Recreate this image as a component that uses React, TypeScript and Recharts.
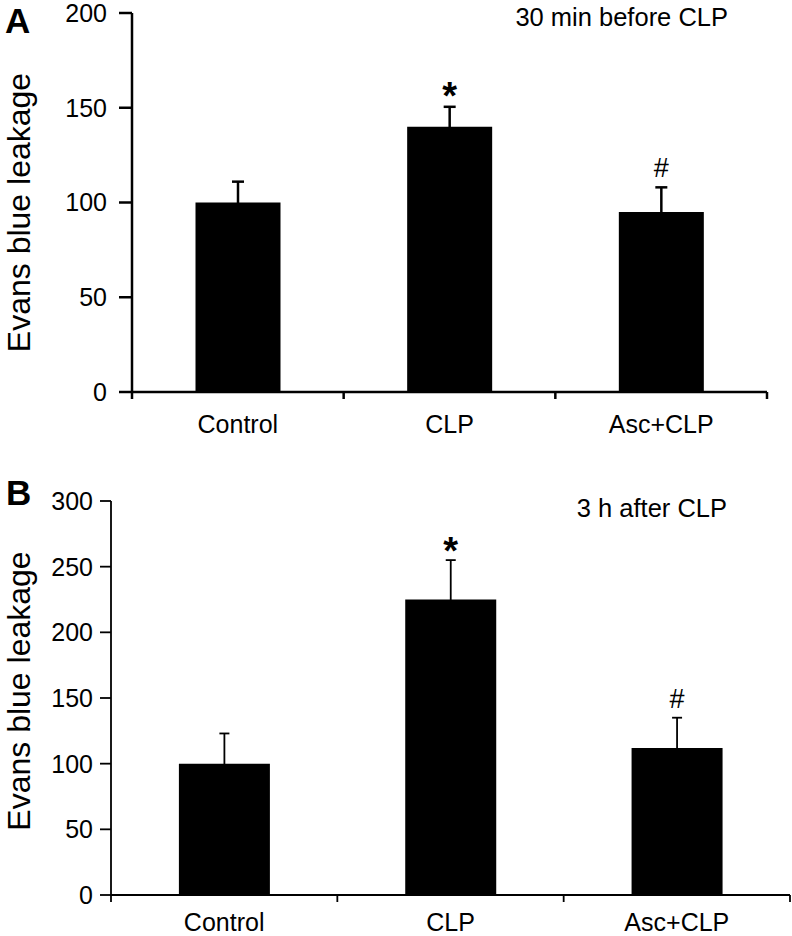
import React from 'react';
import { BarChart, Bar, XAxis, YAxis, ErrorBar, LabelList, Label } from 'recharts';

const FONT = '"Liberation Sans", Arial, Helvetica, sans-serif';

const categories = ['Control', 'CLP', 'Asc+CLP'];

const valuesA = [100, 140, 95];
const errorsA = [11, 10.5, 13];
const marksA = ['', '*', '#'];
const ticksA = [0, 50, 100, 150, 200];

const valuesB = [100, 225, 112];
const errorsB = [23, 30, 23];
const marksB = ['', '*', '#'];
const ticksB = [0, 50, 100, 150, 200, 250, 300];

const titleA = '30 min before CLP';
const titleB = '3 h after CLP';
const yLabel = 'Evans blue leakage';

const buildRows = (vals: number[], errs: number[], marks: string[]) =>
  categories.map((c, i) => ({ name: c, value: vals[i], err: errs[i], mark: marks[i] }));

const dataA = buildRows(valuesA, errorsA, marksA);
const dataB = buildRows(valuesB, errorsB, marksB);

function makeCatTick(tickLen: number, strokeW: number, labelDy: number) {
  return (props: any) => {
    const { x, y, payload, index } = props;
    const off = payload && typeof payload.offset === 'number' ? payload.offset : 0;
    const axisY = y - tickLen;
    const last = index === categories.length - 1;
    return (
      <g>
        <line x1={x - off} x2={x - off} y1={axisY} y2={axisY + tickLen} stroke="#000" strokeWidth={strokeW} />
        {last && (
          <line x1={x + off} x2={x + off} y1={axisY} y2={axisY + tickLen} stroke="#000" strokeWidth={strokeW} />
        )}
        <text x={x} y={axisY + labelDy} textAnchor="middle" fontFamily={FONT} fontSize={25} fill="#000">
          {payload.value}
        </text>
      </g>
    );
  };
}

function makeSigLabel(vals: number[], errs: number[], gapStar: number, gapHash: number) {
  return (props: any) => {
    const { x, y, width, height, value, index } = props;
    if (!value) return null;
    const pxPerUnit = height / vals[index];
    const errTop = y - errs[index] * pxPerUnit;
    const cx = x + width / 2;
    if (value === '*') {
      return (
        <text x={cx} y={errTop - gapStar} textAnchor="middle" fontFamily={FONT} fontSize={38} fontWeight="bold" fill="#000">
          {value}
        </text>
      );
    }
    return (
      <text x={cx} y={errTop - gapHash} textAnchor="middle" fontFamily={FONT} fontSize={27} fill="#000">
        {value}
      </text>
    );
  };
}

function makeYLabel(dxCenter: number, dyShift: number) {
  return (props: any) => {
    const vb = props.viewBox || { x: 0, y: 0, width: 0, height: 0 };
    const cx = vb.x + dxCenter;
    const cy = vb.y + vb.height / 2 + dyShift;
    return (
      <text
        x={cx}
        y={cy}
        transform={`rotate(-90, ${cx}, ${cy})`}
        textAnchor="middle"
        dominantBaseline="central"
        fontFamily={FONT}
        fontSize={32}
        fill="#000"
      >
        {yLabel}
      </text>
    );
  };
}

export default function App() {
  return (
    <div style={{ position: 'absolute', left: 0, top: 0, width: 792, height: 936, background: '#fff' }}>
      <BarChart
        width={792}
        height={450}
        data={dataA}
        margin={{ top: 13, right: 25, bottom: 8, left: 0 }}
        barCategoryGap="30%"
      >
        <XAxis
          dataKey="name"
          type="category"
          axisLine={{ stroke: '#000', strokeWidth: 2.5 }}
          tickLine={false}
          tickSize={7}
          tickMargin={0}
          height={50}
          interval={0}
          tick={makeCatTick(7, 2.5, 41)}
        />
        <YAxis
          type="number"
          domain={[0, 200]}
          ticks={ticksA}
          width={132}
          axisLine={{ stroke: '#000', strokeWidth: 2.5 }}
          tickLine={{ stroke: '#000', strokeWidth: 2.5 }}
          tickSize={13}
          tickMargin={12}
          tick={{ fill: '#000', fontSize: 25, fontFamily: FONT }}
          interval={0}
        >
          <Label content={makeYLabel(18.5, 10)} />
        </YAxis>
        <Bar dataKey="value" fill="#000" isAnimationActive={false}>
          <ErrorBar dataKey="err" width={6} strokeWidth={2.5} stroke="#000" direction="y" />
          <LabelList dataKey="mark" content={makeSigLabel(valuesA, errorsA, -2, 10)} />
        </Bar>
      </BarChart>
      <BarChart
        width={792}
        height={486}
        data={dataB}
        margin={{ top: 51, right: 2, bottom: 0, left: 0 }}
        barCategoryGap="30%"
      >
        <XAxis
          dataKey="name"
          type="category"
          axisLine={{ stroke: '#000', strokeWidth: 1.8 }}
          tickLine={false}
          tickSize={7}
          tickMargin={0}
          height={41}
          interval={0}
          tick={makeCatTick(7, 1.8, 36)}
        />
        <YAxis
          type="number"
          domain={[0, 300]}
          ticks={ticksB}
          width={111}
          axisLine={{ stroke: '#000', strokeWidth: 1.8 }}
          tickLine={{ stroke: '#000', strokeWidth: 1.8 }}
          tickSize={11}
          tickMargin={7}
          tick={{ fill: '#000', fontSize: 25, fontFamily: FONT }}
          interval={0}
        >
          <Label content={makeYLabel(18.5, -7)} />
        </YAxis>
        <Bar dataKey="value" fill="#000" isAnimationActive={false}>
          <ErrorBar dataKey="err" width={5} strokeWidth={1.8} stroke="#000" direction="y" />
          <LabelList dataKey="mark" content={makeSigLabel(valuesB, errorsB, -4, 10)} />
        </Bar>
      </BarChart>
      <svg
        width={792}
        height={936}
        style={{ position: 'absolute', left: 0, top: 0, pointerEvents: 'none' }}
      >
        <text x={5} y={33} fontFamily={FONT} fontSize={35} fontWeight="bold" fill="#000">A</text>
        <text x={6} y={505} fontFamily={FONT} fontSize={35} fontWeight="bold" fill="#000">B</text>
        <text x={728} y={26} textAnchor="end" fontFamily={FONT} fontSize={25.5} fill="#000">{titleA}</text>
        <text x={727} y={517} textAnchor="end" fontFamily={FONT} fontSize={25.5} fill="#000">{titleB}</text>
      </svg>
    </div>
  );
}
